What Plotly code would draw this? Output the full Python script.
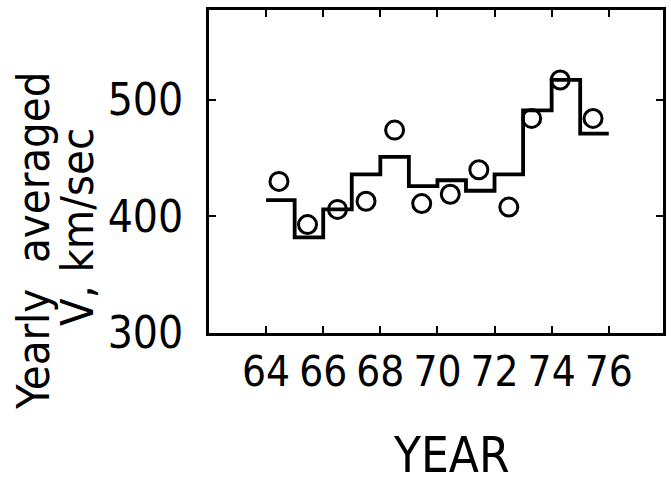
import plotly.graph_objects as go

# Step (yearly averaged solar wind speed, km/sec), one value per year 64..75
step_years = [64, 65, 66, 67, 68, 69, 70, 71, 72, 73, 74, 75, 76]
step_values = [414, 382, 406, 436, 451, 426, 431, 422, 436, 491, 517, 471]

# Open-circle points
circle_years = [64.45, 65.45, 66.5, 67.5, 68.5, 69.45, 70.45, 71.45, 72.5, 73.3, 74.3, 75.45]
circle_values = [430, 393, 406, 413, 474, 411, 419, 440, 408, 484, 517, 484]

x_ticks = [64, 66, 68, 70, 72, 74, 76]
x_tick_labels = ["64", "66", "68", "70", "72", "74", "76"]
y_ticks = [300, 400, 500]
y_tick_labels = ["300", "400", "500"]

FONT = "DejaVu Sans Condensed, sans-serif"

fig = go.Figure()
fig.add_trace(go.Scatter(
    x=step_years,
    y=step_values + [step_values[-1]],
    mode="lines",
    line=dict(shape="hv", color="black", width=3.8),
    showlegend=False,
))
fig.add_trace(go.Scatter(
    x=circle_years,
    y=circle_values,
    mode="markers",
    marker=dict(symbol="circle-open", size=18, color="black",
                line=dict(color="black", width=3)),
    showlegend=False,
))

fig.update_layout(
    width=671, height=483,
    margin=dict(l=209, r=5, t=10, b=150),
    paper_bgcolor="white", plot_bgcolor="white",
    xaxis=dict(
        range=[62, 77.9], tickmode="array", tickvals=x_ticks, ticktext=x_tick_labels,
        ticks="inside", ticklen=7, tickwidth=2, tickcolor="black",
        showline=True, linecolor="black", linewidth=3, mirror="ticks",
        showgrid=False, zeroline=False,
        tickfont=dict(family=FONT, size=42, color="black"),
        ticklabelstandoff=0,
    ),
    yaxis=dict(
        range=[300, 577], tickmode="array", tickvals=y_ticks, ticktext=y_tick_labels,
        ticks="inside", ticklen=7, tickwidth=2, tickcolor="black",
        showline=True, linecolor="black", linewidth=3, mirror="ticks",
        showgrid=False, zeroline=False,
        tickfont=dict(family=FONT, size=44, color="black"),
        ticklabelstandoff=14,
    ),
    annotations=[
        dict(text="Yearly  averaged", xref="paper", yref="paper", x=0, y=0,
             xshift=-176, yshift=92, xanchor="center", yanchor="middle",
             textangle=-90, showarrow=False,
             font=dict(family=FONT, size=45, color="black")),
        dict(text="V, km/sec", xref="paper", yref="paper", x=0, y=0,
             xshift=-132, yshift=106, xanchor="center", yanchor="middle",
             textangle=-90, showarrow=False,
             font=dict(family=FONT, size=45, color="black")),
        dict(text="YEAR", xref="paper", yref="paper", x=0, y=0,
             xshift=242, yshift=-122, xanchor="center", yanchor="middle",
             showarrow=False,
             font=dict(family=FONT, size=49, color="black")),
    ],
)

fig.write_html("out.html")
